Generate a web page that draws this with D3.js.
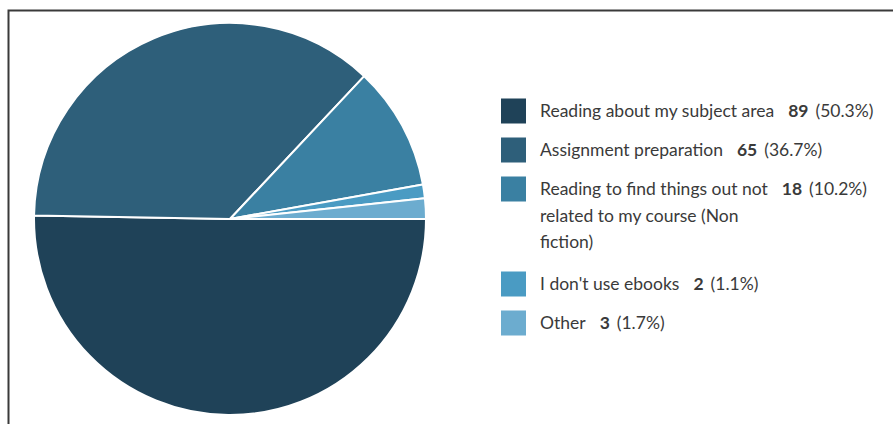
<!DOCTYPE html>
<html><head><meta charset="utf-8">
<script src="https://cdn.jsdelivr.net/npm/d3@7"></script>
<style>body{margin:0;background:#fff}svg{display:block}</style>
</head><body><svg id="c" width="893" height="424"></svg>
<script>
const categories = ["Reading about my subject area","Assignment preparation","Reading to find things out not related to my course (Non fiction)","I don't use ebooks","Other"];
const labelLines = [["Reading about my subject area"],["Assignment preparation"],["Reading to find things out not","related to my course (Non","fiction)"],["I don't use ebooks"],["Other"]];
const counts = [89,65,18,2,3];
const percents = ["50.3%","36.7%","10.2%","1.1%","1.7%"];
const colors = ["#1f4258","#2e5f7a","#3a80a2","#4a9bc3","#6caccf"];

const svg = d3.select("#c");
svg.append("path").attr("d","M8.5,424V10.5H893").attr("fill","none").attr("stroke","#3a3a3a").attr("stroke-width",2);

const cx=230, cy=219, r=196;
const pie = d3.pie().sort(null).value(d=>d).startAngle(Math.PI/2).endAngle(Math.PI/2+2*Math.PI);
const arc = d3.arc().innerRadius(0).outerRadius(r);
const color = d3.scaleOrdinal().domain(categories).range(colors);
const g = svg.append("g").attr("transform",`translate(${cx},${cy})`);
g.selectAll("path").data(pie(counts)).join("path")
  .attr("d",arc).attr("fill",(d,i)=>color(categories[i]))
  .attr("stroke","#fff").attr("stroke-width",2).attr("stroke-linejoin","round");

const font = "Lato, 'Open Sans', sans-serif";
const lg = svg.append("g").attr("font-family",font).attr("font-size",17.5).attr("fill","#3a3a3a");
let y = 111;
const lineH = 26.5, rowGap = 39, multiGap = 42;
categories.forEach((c,i)=>{
  const row = lg.append("g");
  row.append("rect").attr("x",501).attr("y",y-12.5).attr("width",25).attr("height",25).attr("fill",colors[i]);
  labelLines[i].forEach((ln,j)=>{
    const t = row.append("text").attr("x",540).attr("y",y+j*lineH).attr("dy","0.35em");
    t.append("tspan").text(ln);
    if(j===0){
      t.append("tspan").attr("dx",14).attr("font-weight","bold").text(counts[i]);
      t.append("tspan").attr("dx",7).text("("+percents[i]+")");
    }
  });
  const n = labelLines[i].length;
  y += (n-1)*lineH + (n>1 ? multiGap : rowGap);
});
</script></body></html>
